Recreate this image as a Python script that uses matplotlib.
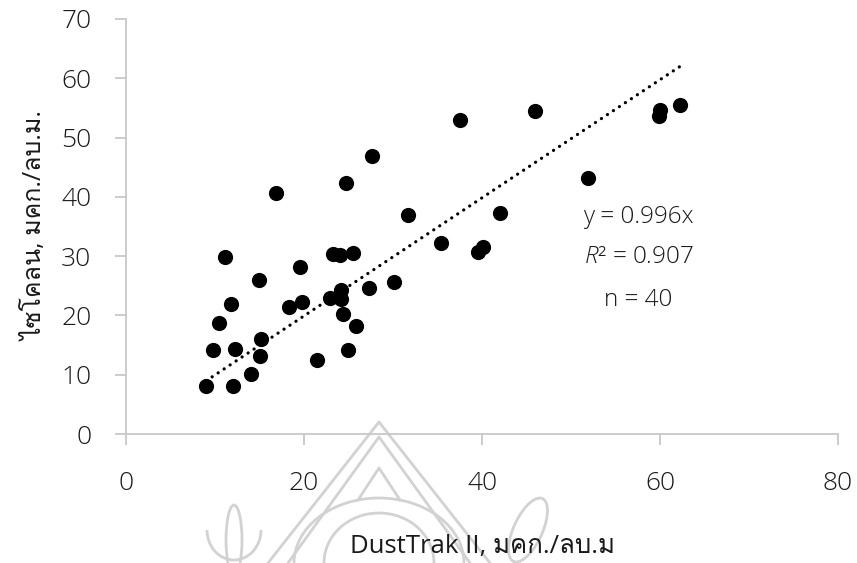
import matplotlib
matplotlib.use("Agg")
import matplotlib.pyplot as plt
from matplotlib import font_manager
from matplotlib.ft2font import FT2Font
from matplotlib.patches import Ellipse, Arc

# ---- data ----
dusttrak = [9.0, 12.0, 14.0, 9.8, 12.2, 15.1, 15.2, 10.4, 11.8, 11.1,
            14.9, 18.3, 19.8, 19.6, 16.9, 21.5, 22.9, 23.3, 24.0, 25.5,
            24.2, 24.2, 24.4, 24.9, 25.8, 24.7, 27.6, 27.3, 30.1, 31.7,
            35.4, 37.5, 39.6, 40.1, 42.0, 46.0, 51.9, 60.0, 59.9, 62.2]
cyclone = [8.1, 8.1, 10.1, 14.2, 14.3, 13.2, 16.1, 18.8, 22.0, 29.9,
           25.9, 21.4, 22.2, 28.2, 40.6, 12.5, 22.9, 30.4, 30.2, 30.5,
           24.3, 22.8, 20.2, 14.2, 18.2, 42.3, 46.9, 24.7, 25.7, 37.0,
           32.3, 53.0, 30.7, 31.6, 37.3, 54.4, 43.2, 54.6, 53.6, 55.5]
slope = 0.996
x_ticks = [0, 20, 40, 60, 80]
y_ticks = [0, 10, 20, 30, 40, 50, 60, 70]
x_label = "DustTrak II, มคก./ลบ.ม"
y_label = "ไซโคลน, มคก./ลบ.ม."
eq_lines = ["y = 0.996x", "$\\mathit{R}$² = 0.907", "n = 40"]

# ---- font with Thai coverage: prefer the family with the lightest face ----
def wnum(w):
    if isinstance(w, (int, float)):
        return w
    return font_manager.weight_dict.get(str(w).lower(), 400)

thai_font = None
best = None
for fe in font_manager.fontManager.ttflist:
    try:
        f = FT2Font(fe.fname)
        if f.get_char_index(ord("ไ")) and f.get_char_index(ord("ล")):
            score = (abs(wnum(fe.weight) - 350), fe.style != "normal")
            if best is None or score < best:
                best = score
                thai_font = fe.name
    except Exception:
        pass
fams = ["Open Sans"] + ([thai_font] if thai_font else []) + ["DejaVu Sans"]
plt.rcParams["font.family"] = fams
plt.rcParams["mathtext.fontset"] = "custom"
plt.rcParams["mathtext.it"] = "Open Sans:italic:light"
plt.rcParams["mathtext.rm"] = "Open Sans:light"
TXT = "#1a1a1a"

fig = plt.figure(figsize=(8.57, 5.63), dpi=100)
ax = fig.add_axes([126/857, 1-434/563, (838-126)/857, (434-19)/563])

# ---- faint watermark (background decoration) ----
W, H = 857, 563
def P(x, y):
    return (x / W, 1 - y / H)
wm = "#d2d2d2"
for pts in ([P(268, 563), P(379, 422), P(490, 563)],
            [P(288, 563), P(379, 437), P(470, 563)],
            [P(358, 500), P(379, 468), P(400, 500)]):
    fig.add_artist(plt.Line2D([p[0] for p in pts], [p[1] for p in pts],
                              transform=fig.transFigure, color=wm, lw=2.0, zorder=0))
fig.add_artist(Arc(P(379, 563), 170/W, 130/H, theta1=0, theta2=180,
                   transform=fig.transFigure, color=wm, lw=2.0, zorder=0))
fig.add_artist(Arc(P(379, 563), 110/W, 100/H, theta1=0, theta2=180,
                   transform=fig.transFigure, color=wm, lw=2.0, zorder=0))
fig.add_artist(Ellipse(P(234, 540), 16/W, 70/H, transform=fig.transFigure,
                       fill=False, ec=wm, lw=2.0, zorder=0))
fig.add_artist(Arc(P(234, 530), 54/W, 60/H, theta1=180, theta2=360,
                   transform=fig.transFigure, color=wm, lw=2.0, zorder=0))
fig.add_artist(Ellipse(P(528, 530), 30/W, 66/H, angle=-15, transform=fig.transFigure,
                       fill=False, ec=wm, lw=2.0, zorder=0))

# ---- data marks ----
ax.scatter(dusttrak, cyclone, s=120, color="black", zorder=3, linewidths=0)
xl = [min(dusttrak), max(dusttrak)]
ax.plot(xl, [slope*v for v in xl], color="black", lw=2.3,
        linestyle=(0, (0.05, 2.2)), dash_capstyle="round", zorder=2)

ax.set_xlim(0, 80)
ax.set_ylim(0, 70)
ax.set_xticks(x_ticks)
ax.set_yticks(y_ticks)
for s in ["top", "right"]:
    ax.spines[s].set_visible(False)
for s in ["left", "bottom"]:
    ax.spines[s].set_color("#c8c8c8")
    ax.spines[s].set_linewidth(1.3)
ax.tick_params(axis="both", direction="out", length=8, width=1.3,
               color="#c8c8c8", labelsize=19, labelcolor=TXT)
ax.tick_params(axis="x", pad=19)
ax.tick_params(axis="y", pad=17)
for lab in ax.get_xticklabels() + ax.get_yticklabels():
    lab.set_fontweight("light")
ax.patch.set_alpha(0)

fig.text(482/W, 1-553/H, x_label, ha="center", va="baseline",
         fontsize=18.5, color=TXT, fontweight="normal")
fig.text(43/W, 1-226/H, y_label, ha="center", va="baseline", rotation=90,
         rotation_mode="anchor", fontsize=18, color=TXT, fontweight="normal")

for txt, yv in zip(eq_lines, [36.6, 29.8, 22.6]):
    ax.text(57.6, yv, txt, ha="center", va="center", fontsize=17.5,
            color=TXT, fontweight="light")

fig.savefig("out.png", dpi=100)
